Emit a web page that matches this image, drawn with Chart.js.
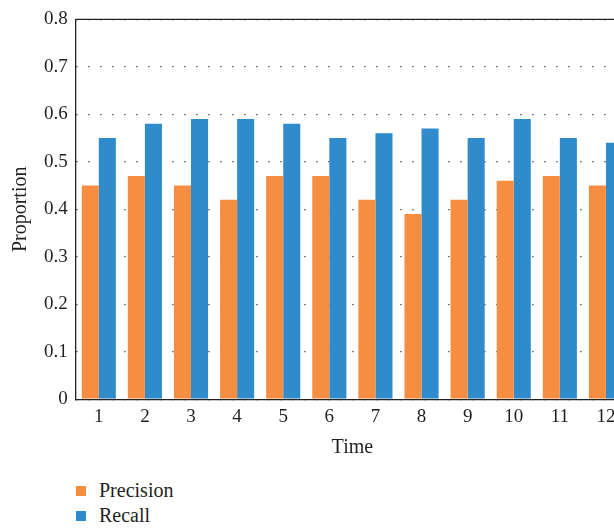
<!DOCTYPE html>
<html>
<head>
<meta charset="utf-8">
<script src="https://cdn.jsdelivr.net/npm/chart.js@4/dist/chart.umd.min.js"></script>
<style>
  html, body { margin: 0; padding: 0; background: #fff; overflow: hidden; width: 614px; height: 528px; }
  #wrap { position: relative; width: 632px; height: 528px; }
  #chart { position: absolute; left: 0; top: 0; }
  #legend { position: absolute; left: 76px; top: 478px; font-family: "Liberation Serif", serif; font-size: 20px; color: #231f20; }
  #legend .item { display: flex; align-items: center; height: 25px; }
  #legend .box { width: 10px; height: 10px; margin-right: 13px; }
</style>
</head>
<body>
<div id="wrap">
  <canvas id="chart" width="632" height="462"></canvas>
  <div id="legend"></div>
</div>
<script>
// Time steps along the x axis
const timeLabels = ['1', '2', '3', '4', '5', '6', '7', '8', '9', '10', '11', '12'];
// Proportion values per time step
const precision = [0.45, 0.47, 0.45, 0.42, 0.47, 0.47, 0.42, 0.39, 0.42, 0.46, 0.47, 0.45];
const recall    = [0.55, 0.58, 0.59, 0.59, 0.58, 0.55, 0.56, 0.57, 0.55, 0.59, 0.55, 0.54];
// Y axis range
const yMin = 0, yMax = 0.8, yStep = 0.1;

const ORANGE = '#F68E41';
const BLUE = '#2F8BCB';
const TEXT = '#231f20';
const SERIF = '"Liberation Serif", serif';

// Solid frame line along the top of the plot
const topBorder = {
  id: 'topBorder',
  afterDatasetsDraw(chart) {
    const { ctx, chartArea } = chart;
    ctx.save();
    ctx.strokeStyle = '#222';
    ctx.lineWidth = 1.3;
    ctx.beginPath();
    ctx.moveTo(chartArea.left, chartArea.top);
    ctx.lineTo(chartArea.right, chartArea.top);
    ctx.stroke();
    ctx.restore();
  }
};

// Stacked legend rendered as HTML below the canvas
const htmlLegend = {
  id: 'htmlLegend',
  afterUpdate(chart) {
    const el = document.getElementById('legend');
    el.innerHTML = '';
    chart.options.plugins.legend.labels.generateLabels(chart).forEach(item => {
      const row = document.createElement('div');
      row.className = 'item';
      const box = document.createElement('span');
      box.className = 'box';
      box.style.background = item.fillStyle;
      const txt = document.createElement('span');
      txt.textContent = item.text;
      row.appendChild(box);
      row.appendChild(txt);
      el.appendChild(row);
    });
  }
};

new Chart(document.getElementById('chart'), {
  type: 'bar',
  data: {
    labels: timeLabels,
    datasets: [
      { label: 'Precision', data: precision, backgroundColor: ORANGE },
      { label: 'Recall', data: recall, backgroundColor: BLUE }
    ]
  },
  options: {
    responsive: false,
    animation: false,
    layout: { padding: { top: 8, right: 3, left: 9, bottom: 2 } },
    datasets: { bar: { barPercentage: 1.0, categoryPercentage: 0.74 } },
    plugins: {
      legend: { display: false },
      tooltip: { enabled: false }
    },
    scales: {
      x: {
        grid: { display: false, drawTicks: false },
        border: { display: true, color: '#222', width: 1.3 },
        ticks: { color: TEXT, font: { family: SERIF, size: 19 }, padding: 6, maxRotation: 0 },
        title: { display: true, text: 'Time', color: TEXT, font: { family: SERIF, size: 20 }, padding: { top: 2, bottom: 0 } }
      },
      y: {
        min: yMin, max: yMax,
        grid: { color: '#333', lineWidth: 1.2, drawTicks: false },
        border: { display: true, color: '#222', width: 1.3, dash: [1.2, 10.8] },
        ticks: {
          stepSize: yStep, color: TEXT, font: { family: SERIF, size: 19 }, padding: 8,
          callback: v => (Math.round(v * 10) / 10).toString()
        },
        title: { display: true, text: 'Proportion', color: TEXT, font: { family: SERIF, size: 20 }, padding: { top: 0, bottom: 3 } }
      }
    }
  },
  plugins: [topBorder, htmlLegend]
});
</script>
</body>
</html>
